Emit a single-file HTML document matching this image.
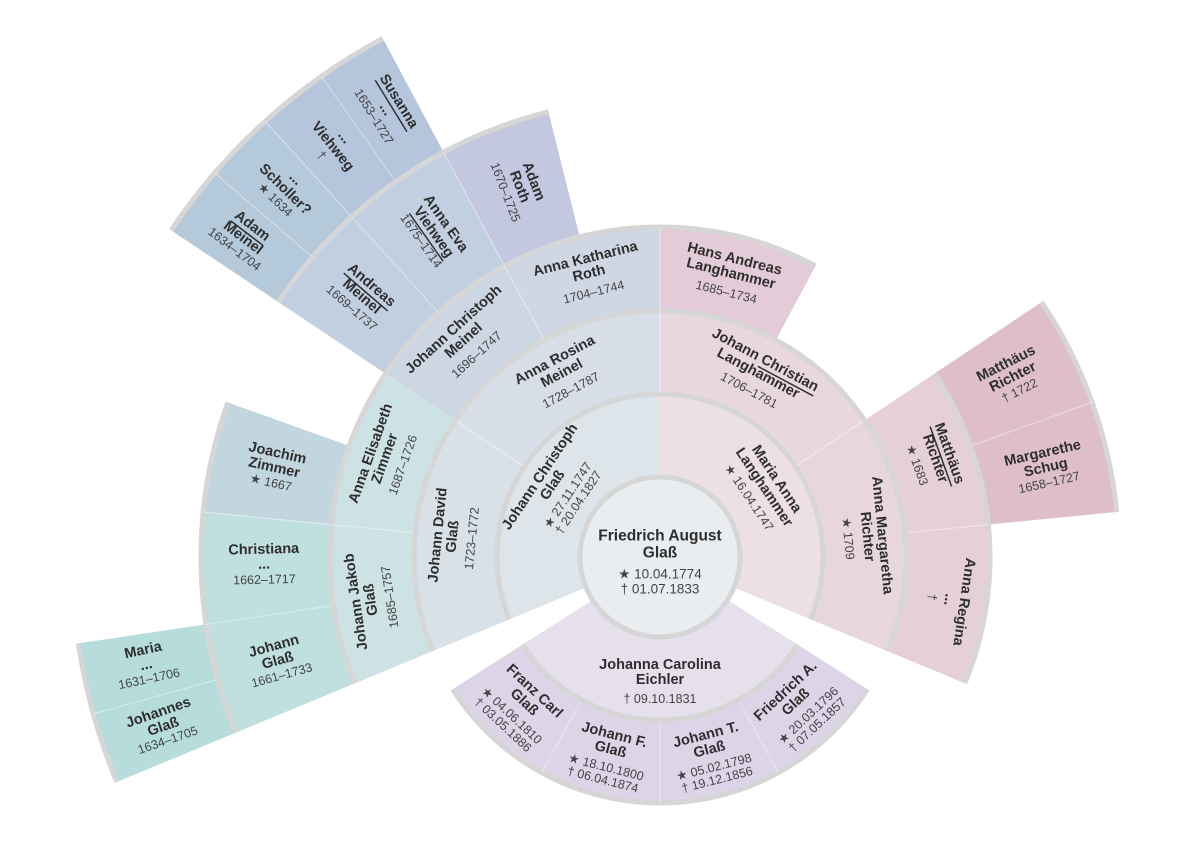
<!DOCTYPE html>
<html><head><meta charset="utf-8"><style>
html,body{margin:0;padding:0;background:#fff;width:1200px;height:848px;overflow:hidden;}
svg{display:block;}
text{font-family:"Liberation Sans",sans-serif;fill:#2e2e2e;text-anchor:middle;dominant-baseline:central;}
.n{font-weight:bold;font-size:14.5px;}
.d{font-size:12.5px;fill:#444;}
.u{text-decoration:underline;}
</style></head><body>
<svg width="1200" height="848" viewBox="0 0 1200 848" xmlns="http://www.w3.org/2000/svg">
<g fill="none" stroke-linecap="butt">
<circle cx="660" cy="557" r="123.5" stroke-width="83" pathLength="360" stroke="#dde5ea" stroke-dasharray="112.5 400" transform="rotate(-202.5 660 557)"/>
<circle cx="660" cy="557" r="123.5" stroke-width="83" pathLength="360" stroke="#ede0e5" stroke-dasharray="112.5 400" transform="rotate(-90 660 557)"/>
<circle cx="660" cy="557" r="123.5" stroke-width="83" pathLength="360" stroke="#e6dfec" stroke-dasharray="115 400" transform="rotate(32.5 660 557)"/>
<circle cx="660" cy="557" r="206.5" stroke-width="83" pathLength="360" stroke="#d8e0e8" stroke-dasharray="56.25 400" transform="rotate(-202.5 660 557)"/>
<circle cx="660" cy="557" r="206.5" stroke-width="83" pathLength="360" stroke="#d7dee7" stroke-dasharray="56.25 400" transform="rotate(-146.25 660 557)"/>
<circle cx="660" cy="557" r="206.5" stroke-width="83" pathLength="360" stroke="#e8d8de" stroke-dasharray="56.25 400" transform="rotate(-90 660 557)"/>
<circle cx="660" cy="557" r="206.5" stroke-width="83" pathLength="360" stroke="#e7d6dc" stroke-dasharray="56.25 400" transform="rotate(-33.75 660 557)"/>
<circle cx="660" cy="557" r="206.5" stroke-width="83" pathLength="360" stroke="#ddd4e7" stroke-dasharray="115 400" transform="rotate(32.5 660 557)"/>
<circle cx="660" cy="557" r="290" stroke-width="84" pathLength="360" stroke="#cde2e4" stroke-dasharray="56.25 400" transform="rotate(-202.5 660 557)"/>
<circle cx="660" cy="557" r="290" stroke-width="84" pathLength="360" stroke="#cdd6e3" stroke-dasharray="28.125 400" transform="rotate(-146.25 660 557)"/>
<circle cx="660" cy="557" r="290" stroke-width="84" pathLength="360" stroke="#d0d7e4" stroke-dasharray="28.125 400" transform="rotate(-118.125 660 557)"/>
<circle cx="660" cy="557" r="290" stroke-width="84" pathLength="360" stroke="#e3ccd8" stroke-dasharray="28.125 400" transform="rotate(-90 660 557)"/>
<circle cx="660" cy="557" r="290" stroke-width="84" pathLength="360" stroke="#e5d0d7" stroke-dasharray="56.25 400" transform="rotate(-33.75 660 557)"/>
<circle cx="660" cy="557" r="396.5" stroke-width="129" pathLength="360" stroke="#c0dfdf" stroke-dasharray="28.125 400" transform="rotate(-202.5 660 557)"/>
<circle cx="660" cy="557" r="396.5" stroke-width="129" pathLength="360" stroke="#c2d6df" stroke-dasharray="14.0625 400" transform="rotate(-174.375 660 557)"/>
<circle cx="660" cy="557" r="396.5" stroke-width="129" pathLength="360" stroke="#c2cfe0" stroke-dasharray="28.125 400" transform="rotate(-146.25 660 557)"/>
<circle cx="660" cy="557" r="396.5" stroke-width="129" pathLength="360" stroke="#c4c7e0" stroke-dasharray="14.0625 400" transform="rotate(-118.125 660 557)"/>
<circle cx="660" cy="557" r="396.5" stroke-width="129" pathLength="360" stroke="#debfc9" stroke-dasharray="28.125 400" transform="rotate(-33.75 660 557)"/>
<circle cx="660" cy="557" r="525.5" stroke-width="129" pathLength="360" stroke="#b6dcdb" stroke-dasharray="14.0625 400" transform="rotate(-202.5 660 557)"/>
<circle cx="660" cy="557" r="525.5" stroke-width="129" pathLength="360" stroke="#b4c9da" stroke-dasharray="14.0625 400" transform="rotate(-146.25 660 557)"/>
<circle cx="660" cy="557" r="525.5" stroke-width="129" pathLength="360" stroke="#b4c5dc" stroke-dasharray="14.0625 400" transform="rotate(-132.1875 660 557)"/>
<g stroke="#d6d6d6" stroke-width="5">
<circle cx="660" cy="557" r="163" pathLength="360" stroke-dasharray="225 400" transform="rotate(-202.5 660 557)"/>
<circle cx="660" cy="557" r="163" pathLength="360" stroke-dasharray="115 400" transform="rotate(32.5 660 557)"/>
<circle cx="660" cy="557" r="246" pathLength="360" stroke-dasharray="225 400" transform="rotate(-202.5 660 557)"/>
<circle cx="660" cy="557" r="246" pathLength="360" stroke-dasharray="115 400" transform="rotate(32.5 660 557)"/>
<circle cx="660" cy="557" r="330" pathLength="360" stroke-dasharray="140.625 400" transform="rotate(-202.5 660 557)"/>
<circle cx="660" cy="557" r="330" pathLength="360" stroke-dasharray="56.25 400" transform="rotate(-33.75 660 557)"/>
<circle cx="660" cy="557" r="459" pathLength="360" stroke-dasharray="42.1875 400" transform="rotate(-202.5 660 557)"/>
<circle cx="660" cy="557" r="459" pathLength="360" stroke-dasharray="42.1875 400" transform="rotate(-146.25 660 557)"/>
<circle cx="660" cy="557" r="459" pathLength="360" stroke-dasharray="28.125 400" transform="rotate(-33.75 660 557)"/>
<circle cx="660" cy="557" r="588" pathLength="360" stroke-dasharray="14.0625 400" transform="rotate(-202.5 660 557)"/>
<circle cx="660" cy="557" r="588" pathLength="360" stroke-dasharray="28.125 400" transform="rotate(-146.25 660 557)"/>
</g>
</g>
<g stroke="#ffffff" stroke-opacity="0.45" stroke-width="1">
<line x1="0" y1="-165" x2="0" y2="-246" transform="translate(660 557) rotate(-56.25)"/>
<line x1="0" y1="-165" x2="0" y2="-246" transform="translate(660 557) rotate(56.25)"/>
<line x1="0" y1="-165" x2="0" y2="-246" transform="translate(660 557) rotate(0)"/>
<line x1="0" y1="-248" x2="0" y2="-330" transform="translate(660 557) rotate(-84.375)"/>
<line x1="0" y1="-248" x2="0" y2="-330" transform="translate(660 557) rotate(-28.125)"/>
<line x1="0" y1="-248" x2="0" y2="-330" transform="translate(660 557) rotate(0)"/>
<line x1="0" y1="-248" x2="0" y2="-330" transform="translate(660 557) rotate(84.375)"/>
<line x1="0" y1="-332" x2="0" y2="-459" transform="translate(660 557) rotate(-98.4375)"/>
<line x1="0" y1="-332" x2="0" y2="-459" transform="translate(660 557) rotate(-84.375)"/>
<line x1="0" y1="-332" x2="0" y2="-459" transform="translate(660 557) rotate(-42.1875)"/>
<line x1="0" y1="-332" x2="0" y2="-459" transform="translate(660 557) rotate(-28.125)"/>
<line x1="0" y1="-332" x2="0" y2="-459" transform="translate(660 557) rotate(70.3125)"/>
<line x1="0" y1="-461" x2="0" y2="-588" transform="translate(660 557) rotate(-105.47)"/>
<line x1="0" y1="-461" x2="0" y2="-588" transform="translate(660 557) rotate(-49.22)"/>
<line x1="0" y1="-461" x2="0" y2="-588" transform="translate(660 557) rotate(-42.1875)"/>
<line x1="0" y1="-461" x2="0" y2="-588" transform="translate(660 557) rotate(-35.16)"/>
<line x1="0" y1="-165" x2="0" y2="-246" transform="translate(660 557) rotate(151.25)"/>
<line x1="0" y1="-165" x2="0" y2="-246" transform="translate(660 557) rotate(180)"/>
<line x1="0" y1="-165" x2="0" y2="-246" transform="translate(660 557) rotate(208.75)"/>
</g>
<circle cx="660" cy="557" r="80" fill="#e9edf0" stroke="#d6d6d6" stroke-width="5"/>
<text class="n" x="660" y="536" style="font-size:15.5px">Friedrich August</text>
<text class="n" x="660" y="553" style="font-size:15.5px">Glaß</text>
<text class="d" x="660" y="574" style="font-size:13.5px">★ 10.04.1774</text>
<text class="d" x="660" y="589" style="font-size:13.5px">† 01.07.1833</text>

<g transform="translate(660 557) rotate(-56.25) translate(0 -122)">
<text class="n" y="-22">Johann Christoph</text><text class="n" y="-7">Glaß</text>
<text class="d" y="11">★ 27.11.1747</text><text class="d" y="24">† 20.04.1827</text></g>
<g transform="translate(660 557) rotate(56.25) translate(0 -122)">
<text class="n" y="-18">Maria Anna</text><text class="n" y="-3">Langhammer</text>
<text class="d" y="15">★ 16.04.1747</text></g>
<g transform="translate(660 557) rotate(180) translate(0 -122) rotate(180)">
<text class="n" y="-14">Johanna Carolina</text><text class="n" y="1">Eichler</text>
<text class="d" y="20">† 09.10.1831</text></g>

<g transform="translate(660 557) rotate(-84.375) translate(0 -206)">
<text class="n" y="-17">Johann David</text><text class="n" y="-2">Glaß</text><text class="d" y="17">1723–1772</text></g>
<g transform="translate(660 557) rotate(-28.125) translate(0 -206)">
<text class="n" y="-17">Anna Rosina</text><text class="n" y="-2">Meinel</text><text class="d" y="17">1728–1787</text></g>
<g transform="translate(660 557) rotate(28.125) translate(0 -206)">
<text class="n" y="-17">Johann <tspan class="u">Christian</tspan></text><text class="n" y="-2">Langhammer</text><text class="d" y="17">1706–1781</text></g>
<g transform="translate(660 557) rotate(84.375) translate(0 -206)">
<text class="n" y="-17">Anna Margaretha</text><text class="n" y="-2">Richter</text><text class="d" y="17">★ 1709</text></g>
<g transform="translate(660 557) rotate(223.1) translate(0 -206) rotate(180)">
<text class="n" y="-22">Franz Carl</text><text class="n" y="-7">Glaß</text><text class="d" y="11">★ 04.06.1810</text><text class="d" y="24">† 03.05.1886</text></g>
<g transform="translate(660 557) rotate(194.4) translate(0 -206) rotate(180)">
<text class="n" y="-22">Johann F.</text><text class="n" y="-7">Glaß</text><text class="d" y="11">★ 18.10.1800</text><text class="d" y="24">† 06.04.1874</text></g>
<g transform="translate(660 557) rotate(165.6) translate(0 -206) rotate(180)">
<text class="n" y="-22">Johann T.</text><text class="n" y="-7">Glaß</text><text class="d" y="11">★ 05.02.1798</text><text class="d" y="24">† 19.12.1856</text></g>
<g transform="translate(660 557) rotate(136.9) translate(0 -206) rotate(180)">
<text class="n" y="-22">Friedrich A.</text><text class="n" y="-7">Glaß</text><text class="d" y="11">★ 20.03.1796</text><text class="d" y="24">† 07.05.1857</text></g>

<g transform="translate(660 557) rotate(-98.4) translate(0 -290)">
<text class="n" y="-17">Johann Jakob</text><text class="n" y="-2">Glaß</text><text class="d" y="17">1685–1757</text></g>
<g transform="translate(660 557) rotate(-70.3) translate(0 -290)">
<text class="n" y="-17">Anna Elisabeth</text><text class="n" y="-2">Zimmer</text><text class="d" y="17">1687–1726</text></g>
<g transform="translate(660 557) rotate(-42.2) translate(0 -290)">
<text class="n" y="-17">Johann Christoph</text><text class="n" y="-2">Meinel</text><text class="d" y="17">1696–1747</text></g>
<g transform="translate(660 557) rotate(-14.06) translate(0 -290)">
<text class="n" y="-17">Anna Katharina</text><text class="n" y="-2">Roth</text><text class="d" y="17">1704–1744</text></g>
<g transform="translate(660 557) rotate(14.06) translate(0 -290)">
<text class="n" y="-17">Hans Andreas</text><text class="n" y="-2">Langhammer</text><text class="d" y="17">1685–1734</text></g>
<g transform="translate(660 557) rotate(70.3) translate(0 -290)">
<text class="n" y="-17"><tspan class="u">Matthäus</tspan></text><text class="n" y="-2">Richter</text><text class="d" y="17">★ 1683</text></g>
<g transform="translate(660 557) rotate(98.4) translate(0 -290)">
<text class="n" y="-17">Anna Regina</text><text class="n" y="-2">...</text><text class="d" y="15">†</text></g>

<g transform="translate(660 557) rotate(-105.5) translate(0 -396) rotate(90)">
<text class="n" y="-17">Johann</text><text class="n" y="-2">Glaß</text><text class="d" y="13">1661–1733</text></g>
<g transform="translate(660 557) rotate(-91.4) translate(0 -396) rotate(90)">
<text class="n" y="-17">Christiana</text><text class="n" y="-2">...</text><text class="d" y="13">1662–1717</text></g>
<g transform="translate(660 557) rotate(-77.3) translate(0 -396) rotate(90)">
<text class="n" y="-17">Joachim</text><text class="n" y="-2">Zimmer</text><text class="d" y="13">★ 1667</text></g>
<g transform="translate(660 557) rotate(-49.2) translate(0 -396) rotate(90)">
<text class="n" y="-17"><tspan class="u">Andreas</tspan></text><text class="n" y="-2">Meinel</text><text class="d" y="13">1669–1737</text></g>
<g transform="translate(660 557) rotate(-35.2) translate(0 -396) rotate(90)">
<text class="n" y="-17">Anna Eva</text><text class="n" y="-2"><tspan class="u">Viehweg</tspan></text><text class="d" y="13">1675–1714</text></g>
<g transform="translate(660 557) rotate(-21.1) translate(0 -396) rotate(90)">
<text class="n" y="-17">Adam</text><text class="n" y="-2">Roth</text><text class="d" y="13">1670–1725</text></g>
<g transform="translate(660 557) rotate(63.3) translate(0 -396) rotate(-90)">
<text class="n" y="-17">Matthäus</text><text class="n" y="-2">Richter</text><text class="d" y="13">† 1722</text></g>
<g transform="translate(660 557) rotate(77.3) translate(0 -396) rotate(-90)">
<text class="n" y="-17">Margarethe</text><text class="n" y="-2">Schug</text><text class="d" y="13">1658–1727</text></g>

<g transform="translate(660 557) rotate(-109) translate(0 -525) rotate(90)">
<text class="n" y="-16">Johannes</text><text class="n" y="-1">Glaß</text><text class="d" y="13">1634–1705</text></g>
<g transform="translate(660 557) rotate(-102) translate(0 -525) rotate(90)">
<text class="n" y="-16">Maria</text><text class="n" y="-1">...</text><text class="d" y="13">1631–1706</text></g>
<g transform="translate(660 557) rotate(-52.7) translate(0 -525) rotate(90)">
<text class="n" y="-16"><tspan class="u">Adam</tspan></text><text class="n" y="-1">Meinel</text><text class="d" y="13">1634–1704</text></g>
<g transform="translate(660 557) rotate(-45.7) translate(0 -525) rotate(90)">
<text class="n" y="-16">...</text><text class="n" y="-1">Scholler?</text><text class="d" y="13">★ 1634</text></g>
<g transform="translate(660 557) rotate(-38.7) translate(0 -525) rotate(90)">
<text class="n" y="-16">...</text><text class="n" y="-1">Viehweg</text><text class="d" y="13">†</text></g>
<g transform="translate(660 557) rotate(-31.6) translate(0 -525) rotate(90)">
<text class="n" y="-16"><tspan class="u">Susanna</tspan></text><text class="n" y="-1">...</text><text class="d" y="13">1653–1727</text></g>
</svg>
</body></html>
